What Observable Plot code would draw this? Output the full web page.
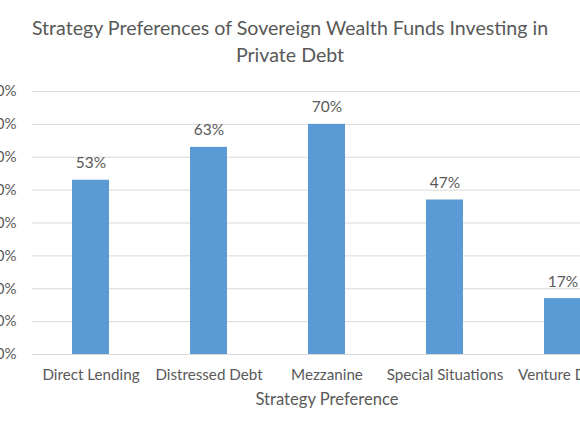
<!DOCTYPE html>
<html>
<head>
<meta charset="utf-8">
<script src="https://cdn.jsdelivr.net/npm/d3@7"></script>
<script src="https://cdn.jsdelivr.net/npm/@observablehq/plot@0.6"></script>
<style>
  html, body { margin: 0; padding: 0; background: white; }
  #wrap { position: relative; width: 580px; height: 435px; overflow: hidden; font-family: Lato, sans-serif; }
  #title { position: absolute; top: 14px; left: 0; width: 580px; text-align: center; font-size: 19.6px; line-height: 27px; color: #595959; z-index: 2; white-space: nowrap; }
  #chart { position: absolute; top: 0; left: 0; }
</style>
</head>
<body>
<div id="wrap">
  <div id="title">Strategy Preferences of Sovereign Wealth Funds Investing in<br>Private Debt</div>
  <div id="chart"></div>
</div>
<script>
const categories = ["Direct Lending", "Distressed Debt", "Mezzanine", "Special Situations", "Venture Debt"];
const values = [53, 63, 70, 47, 17];
const yTicks = [0, 10, 20, 30, 40, 50, 60, 70, 80];
const axisTitle = "Strategy Preference";

const data = categories.map((c, i) => ({category: c, value: values[i]}));
const textColor = "#595959";

const chart = Plot.plot({
  width: 580,
  height: 435,
  marginTop: 91,
  marginBottom: 81,
  marginLeft: 32,
  marginRight: 0,
  style: {fontFamily: "Lato, sans-serif", fontSize: "15px", color: textColor, background: "white", overflow: "hidden"},
  x: {type: "band", domain: categories, range: [31.5, 621.5], paddingInner: 0.686, paddingOuter: 0.343, label: null},
  y: {domain: [0, 80], label: null},
  marks: [
    Plot.gridY(yTicks, {stroke: "#d9d9d9", strokeOpacity: 1, strokeWidth: 1}),
    Plot.barY(data, {x: "category", y: "value", fill: "#5B9BD5"}),
    Plot.text(data, {x: "category", y: "value", text: d => d.value + "%", lineAnchor: "bottom", dy: -12, fill: textColor, fontSize: 15.5}),
    Plot.axisY(yTicks, {tickSize: 0, tickPadding: 16, tickFormat: d => d + "%", fill: textColor, fontSize: 15, label: null}),
    Plot.axisX({tickSize: 0, tickPadding: 14.5, fill: textColor, fontSize: 15.2, label: null}),
    Plot.text([axisTitle], {x: () => categories[2], frameAnchor: "bottom", lineAnchor: "bottom", dy: 50, fill: textColor, fontSize: 16.6})
  ]
});
document.getElementById("chart").appendChild(chart);
</script>
</body>
</html>
